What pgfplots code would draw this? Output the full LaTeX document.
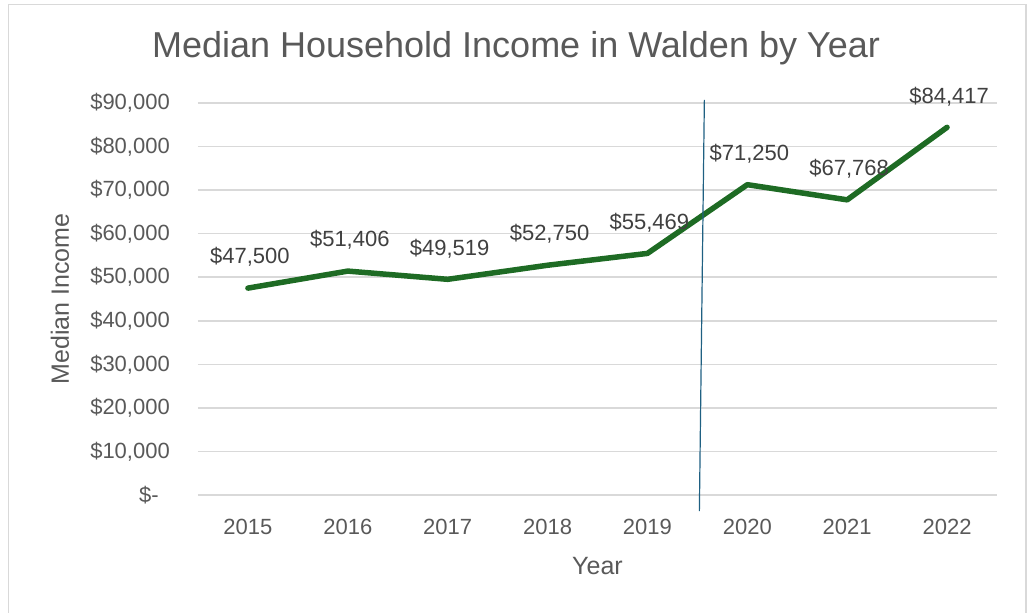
\documentclass[border=0pt]{standalone}
\usepackage{fontspec}
\setmainfont{Liberation Sans}
\usepackage{pgfplots}
\pgfplotsset{compat=1.18}
\definecolor{txtgray}{RGB}{89,89,89}
\definecolor{lblgray}{RGB}{64,64,64}
\definecolor{gridgray}{RGB}{217,217,217}
\definecolor{linegreen}{RGB}{30,107,36}
\definecolor{markblue}{RGB}{31,96,130}
\newcommand{\ticksize}{\fontsize{22}{26}\selectfont}

\begin{document}
\begin{tikzpicture}
\useasboundingbox (0,0) rectangle (1029pt,613pt);
% chart border (bottom edge is cut off in the reference)
\draw[gridgray, line width=1.5pt] (8.5pt,0pt) -- (8.5pt,608.5pt) -- (1026pt,608.5pt) -- (1026pt,0pt);

\begin{axis}[
  at={(198pt,118pt)}, anchor=south west,
  scale only axis, width=799pt, height=392pt,
  xmin=2014.5, xmax=2022.5, ymin=0, ymax=90000,
  clip=false,
  scaled y ticks=false,
  axis line style={draw=none},
  major tick length=0pt,
  ymajorgrids, grid style={gridgray, line width=1.5pt},
  xtick={2015,2016,2017,2018,2019,2020,2021,2022},
  xticklabels={2015,2016,2017,2018,2019,2020,2021,2022},
  ytick={0,10000,20000,30000,40000,50000,60000,70000,80000,90000},
  yticklabels={\$-\hspace*{11pt},\$10{,}000,\$20{,}000,\$30{,}000,\$40{,}000,
    \$50{,}000,\$60{,}000,\$70{,}000,\$80{,}000,\$90{,}000},
  xticklabel style={font=\ticksize, color=txtgray, anchor=center, yshift=-32pt, inner sep=0pt},
  yticklabel style={font=\ticksize, color=txtgray, anchor=east, xshift=-28pt, inner sep=0pt},
  xlabel={Year},
  xlabel style={font=\fontsize{25}{30}\selectfont, color=txtgray,
    at={(axis description cs:0.5,0)}, anchor=center, yshift=-71pt},
  point meta=explicit symbolic,
  nodes near coords,
  every node near coord/.append style={font=\ticksize, color=lblgray,
    anchor=center, yshift=31pt, xshift=2pt},
]
\addplot[linegreen, line width=5.5pt, line cap=round, line join=round, mark=none]
  coordinates {
  (2015,47500) [\$47,500]
  (2016,51406) [\$51,406]
  (2017,49519) [\$49,519]
  (2018,52750) [\$52,750]
  (2019,55469) [\$55,469]
  (2020,71250) [\$71,250]
  (2021,67768) [\$67,768]
  (2022,84417) [\$84,417]
};
\draw[markblue, line width=1.2pt] (axis cs:2019.57,90700) -- (axis cs:2019.52,-3700);
\end{axis}

\node[rotate=90, font=\fontsize{25}{30}\selectfont, color=txtgray] at (60pt,314pt) {Median Income};
\node[font=\fontsize{36}{42}\selectfont, color=txtgray] at (516pt,565pt) {Median Household Income in Walden by Year};
\end{tikzpicture}
\end{document}
